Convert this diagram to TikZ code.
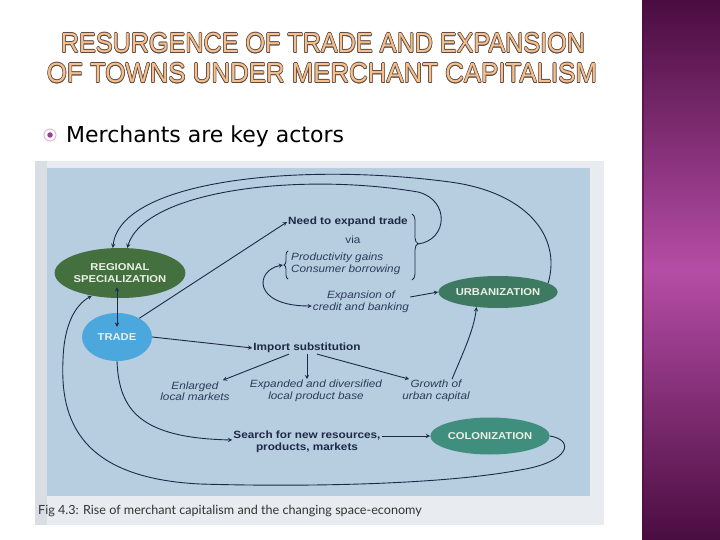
\documentclass[tikz,border=0pt]{standalone}
\usepackage{fontspec}
\usepackage{graphicx}
\setmainfont{Liberation Sans}
\newfontfamily\figfont{Liberation Sans}[FakeStretch=1.12]
\newfontfamily\bulletfont{DejaVu Sans}
\newfontfamily\capfont{Lato}
\usetikzlibrary{shapes.geometric,decorations.pathreplacing}

\definecolor{figblue}{HTML}{B6CEE0}
\definecolor{figframe}{HTML}{E8EBF0}
\definecolor{framedge}{HTML}{D9DDE4}
\definecolor{ink}{HTML}{1E2946}
\definecolor{noteink}{HTML}{2C3B5A}
\definecolor{hubtext}{HTML}{EAF0E4}
\definecolor{regreen}{HTML}{44703F}
\definecolor{urbgreen}{HTML}{3E7A62}
\definecolor{colteal}{HTML}{3F8E7E}
\definecolor{tradeblue}{HTML}{4BA7DC}
\definecolor{titlefill}{HTML}{F5C08E}
\definecolor{titleline}{HTML}{5B4A44}
\definecolor{plumdark}{HTML}{4A0D40}
\definecolor{plumlight}{HTML}{B54DA6}
\definecolor{bulletdot}{HTML}{9B3D8F}

\newcommand\hollow[1]{%
  \textcolor{titleline}{%
    \rlap{\kern-.7pt#1}\rlap{\kern.7pt#1}%
    \rlap{\raisebox{.7pt}{#1}}\rlap{\raisebox{-.7pt}{#1}}%
    \rlap{\kern-.5pt\raisebox{.5pt}{#1}}\rlap{\kern.5pt\raisebox{.5pt}{#1}}%
    \rlap{\kern-.5pt\raisebox{-.5pt}{#1}}\rlap{\kern.5pt\raisebox{-.5pt}{#1}}}%
  \textcolor{titlefill}{#1}}

\tikzset{
  hub/.style={ellipse, inner sep=0pt, text=hubtext, align=center,
    font=\figfont\bfseries\fontsize{10}{11.5}\selectfont},
  box/.style={inner sep=1pt, text=ink, align=center,
    font=\figfont\bfseries\fontsize{10.5}{11.5}\selectfont},
  note/.style={inner sep=1pt, text=noteink, align=center,
    font=\figfont\itshape\fontsize{10.5}{11.5}\selectfont},
  link/.style={->, ink, line width=.9pt},
}

\begin{document}
\begin{tikzpicture}[x=1pt, y=-1pt, >=stealth]
\useasboundingbox (0,0) rectangle (720,540);
\fill[white] (0,0) rectangle (720,540);
\shade[top color=plumdark, bottom color=plumdark, middle color=plumlight] (642,0) rectangle (720,540);
\draw[plumdark, line width=1.5pt, opacity=.6] (642.75,0) -- (642.75,540);

\node (title1) at (323,43) {\resizebox{524pt}{20pt}{\fontsize{28}{30}\selectfont\hollow{RESURGENCE OF TRADE AND EXPANSION}}};
\node (title2) at (322,73) {\resizebox{550pt}{20pt}{\fontsize{28}{30}\selectfont\hollow{OF TOWNS UNDER MERCHANT CAPITALISM}}};

\node[circle, draw=bulletdot!35, line width=1pt, fill=white, minimum size=12pt, inner sep=0pt] (bul) at (50,135) {};
\node[circle, fill=bulletdot, minimum size=5.5pt, inner sep=0pt] (buldot) at (bul) {};
\node[anchor=west, inner sep=0pt] (point) at (66,136) {\bulletfont\fontsize{22}{24}\selectfont Merchants are key actors};

\fill[figframe] (35,161) rectangle (604,525);
\fill[framedge] (35,161) rectangle (47,525);
\fill[figblue] (47,168) rectangle (590,496);
\node[anchor=west, inner sep=0pt, text=black!80] (caption) at (38,511) {\capfont\fontsize{12.6}{14}\selectfont Fig 4.3: Rise of merchant capitalism and the changing space-economy};

\node[hub, fill=regreen, minimum width=130pt, minimum height=50pt] (reg) at (120,273) {REGIONAL\\SPECIALIZATION};
\node[hub, fill=tradeblue, minimum width=70pt, minimum height=48pt] (trade) at (117,337) {TRADE};
\node[hub, fill=urbgreen, minimum width=110pt, minimum height=32pt] (urb) at (498,292) {URBANIZATION};
\node[hub, fill=colteal, minimum width=110pt, minimum height=37pt] (col) at (490,436) {COLONIZATION};

\node[box] (need) at (348,222) {Need to expand trade};
\node[note, font=\figfont\fontsize{10.5}{11.5}\selectfont] (via) at (353,240) {via};
\node[note, align=left, anchor=west] (prod) at (290,264) {Productivity gains\\Consumer borrowing};
\node[note] (cred) at (361,302) {Expansion of\\credit and banking};
\node[box] (imp) at (307,348) {Import substitution};
\node[note] (enl) at (195,391) {Enlarged\\local markets};
\node[note] (expd) at (316,391) {Expanded and diversified\\local product base};
\node[note] (gro) at (436,391) {Growth of\\urban capital};
\node[box] (srch) at (307,442) {Search for new resources,\\products, markets};

\draw[ink, line width=.8pt, decorate, decoration={brace, amplitude=6pt, aspect=.45}] (412,214) -- (412,280);
\draw[ink, line width=.8pt, decorate, decoration={brace, amplitude=4pt}] (288,279) -- (288,251);
\coordinate (rb) at (418,244);
\coordinate (lb) at (283,265);

\draw[link, <->, shorten <=-11pt, shorten >=-14pt] (trade |- reg.south) -- (trade.north);
\draw[link] (trade.40) -- (need.west);
\draw[link] (trade.east) -- (imp.west);
\draw[link] (rb) .. controls (448,240) and (450,200) .. (418,192) .. controls (300,172) and (145,190) .. (reg.74);
\draw[link] (urb.10) .. controls (562,235) and (525,192) .. (450,182) .. controls (300,162) and (120,180) .. (reg.106);
\draw[link, <->] (lb) .. controls (255,270) and (252,306) .. ([yshift=-4pt]cred.west);
\draw[link] ([yshift=5pt]cred.east) -- (urb.west);
\draw[link] ([xshift=-18pt]imp.south) -- ([xshift=-8pt]enl.north east);
\draw[link] (imp.south) -- (imp.south |- expd.north);
\draw[link] ([xshift=10pt]imp.south) -- ([xshift=8pt]gro.north west);
\draw[link] ([xshift=16pt]gro.north) .. controls (462,355) and (474,330) .. (urb.215);
\draw[link] (trade.south) .. controls (119,410) and (140,438) .. ([yshift=2pt]srch.west);
\draw[link] (srch.east |- col) -- (col.west);
\draw[link] (col.east) .. controls (575,440) and (570,462) .. (520,470) .. controls (440,485) and (300,487) .. (200,484) .. controls (80,478) and (60,420) .. (63,360) .. controls (64,325) and (75,305) .. (reg.219);
\end{tikzpicture}
\end{document}
